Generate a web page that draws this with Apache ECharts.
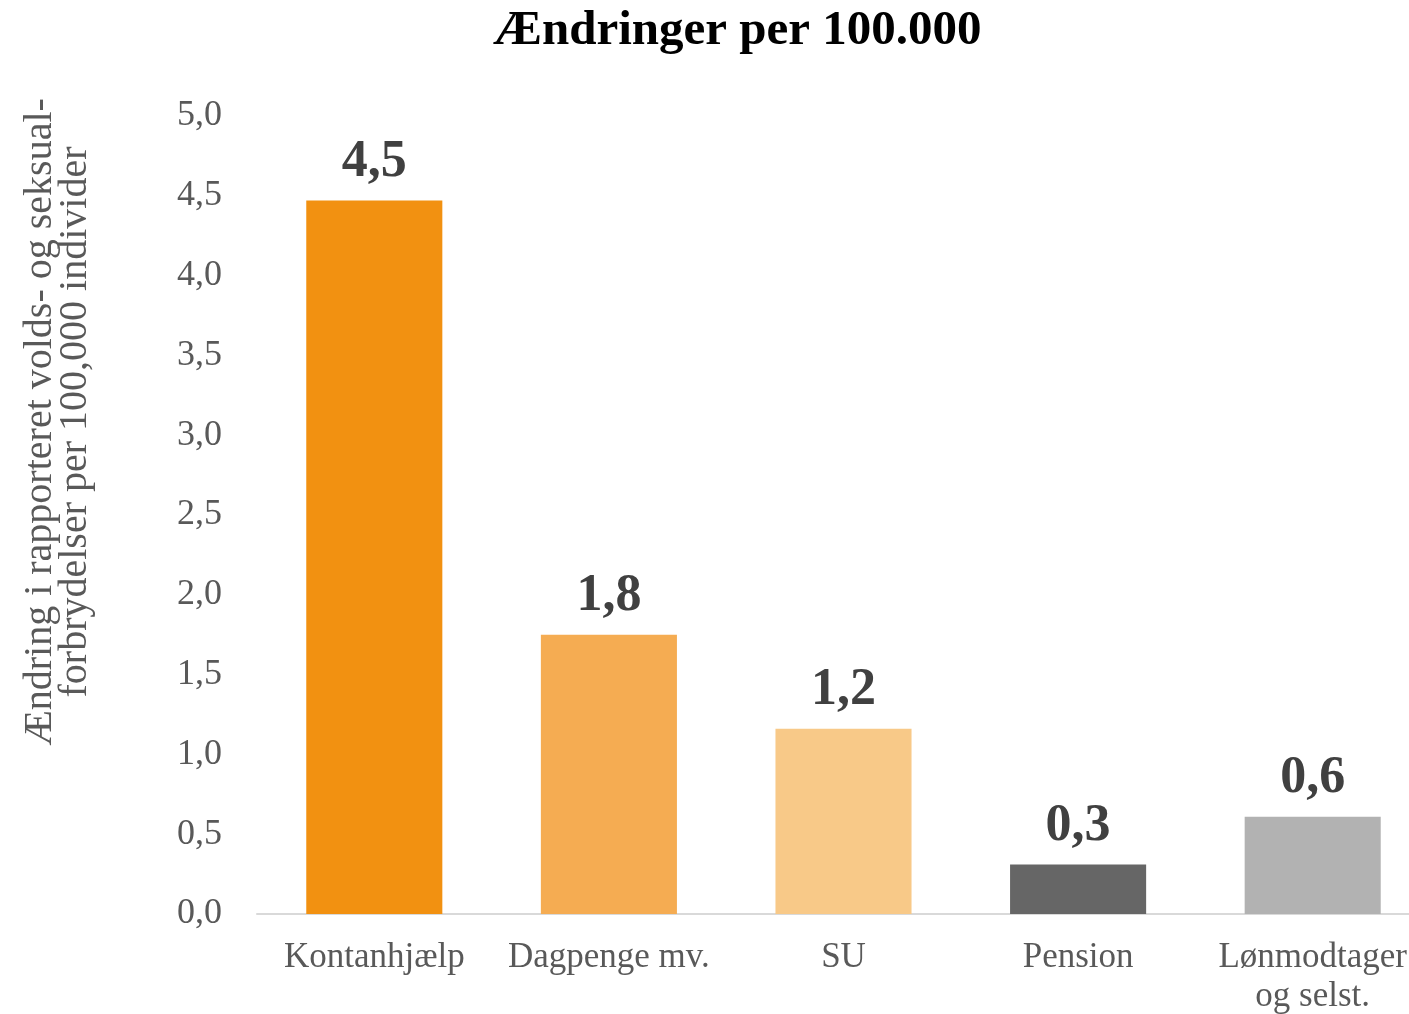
<!DOCTYPE html>
<html>
<head>
<meta charset="utf-8">
<title>Ændringer per 100.000</title>
<script src="https://cdn.jsdelivr.net/npm/echarts@6/dist/echarts.min.js"></script>
<style>
  html, body { margin: 0; padding: 0; background: #fff; }
  #chart { width: 1409px; height: 1014px; }
</style>
</head>
<body>
<div id="chart"></div>
<script>
const categories = ["Kontanhjælp", "Dagpenge mv.", "SU", "Pension", "Lønmodtager\nog selst."];
const values = [4.47, 1.75, 1.16, 0.31, 0.61];
const barColors = ["#F29111", "#F5AC52", "#F8C988", "#666666", "#B2B2B2"];
const yTicks = { min: 0, max: 5, interval: 0.5 };

const FONT = "'Liberation Serif', 'DejaVu Serif', serif";
const fmt = (v) => v.toFixed(1).replace(".", ",");

const chart = echarts.init(document.getElementById("chart"));

chart.setOption({
  animation: false,
  title: {
    text: "Ændringer per 100.000",
    left: 488,
    top: 2,
    textStyle: { fontFamily: FONT, fontSize: 49, fontWeight: "bold", color: "#000" }
  },
  grid: { left: 257, right: -21, top: 116, bottom: 100, outerBoundsMode: "none" },
  graphic: [{
    type: "text",
    x: 58,
    y: 422,
    rotation: Math.PI / 2,
    style: {
      text: "Ændring i rapporteret volds- og seksual-\nforbrydelser per 100,000 individer",
      fontFamily: FONT,
      fontSize: 40,
      lineHeight: 35,
      fill: "#595959",
      align: "center",
      verticalAlign: "middle"
    }
  }],
  xAxis: {
    type: "category",
    data: categories,
    axisLine: { lineStyle: { color: "#D9D9D9", width: 2 } },
    axisTick: { show: false },
    axisLabel: {
      fontFamily: FONT, fontSize: 35, color: "#595959",
      margin: 24, lineHeight: 39, interval: 0
    }
  },
  yAxis: {
    type: "value",
    min: yTicks.min,
    max: yTicks.max,
    interval: yTicks.interval,
    splitLine: { show: false },
    axisLine: { show: false },
    axisTick: { show: false },
    axisLabel: {
      fontFamily: FONT, fontSize: 36, color: "#595959", margin: 35,
      formatter: fmt
    }
  },
  series: [{
    type: "bar",
    barCategoryGap: "42%",
    data: values.map((v, i) => ({ value: v, itemStyle: { color: barColors[i] } })),
    label: {
      show: true,
      position: "top",
      distance: 12,
      fontFamily: FONT, fontSize: 52, fontWeight: "bold", color: "#404040",
      formatter: (p) => fmt(p.value)
    }
  }]
});
</script>
</body>
</html>
